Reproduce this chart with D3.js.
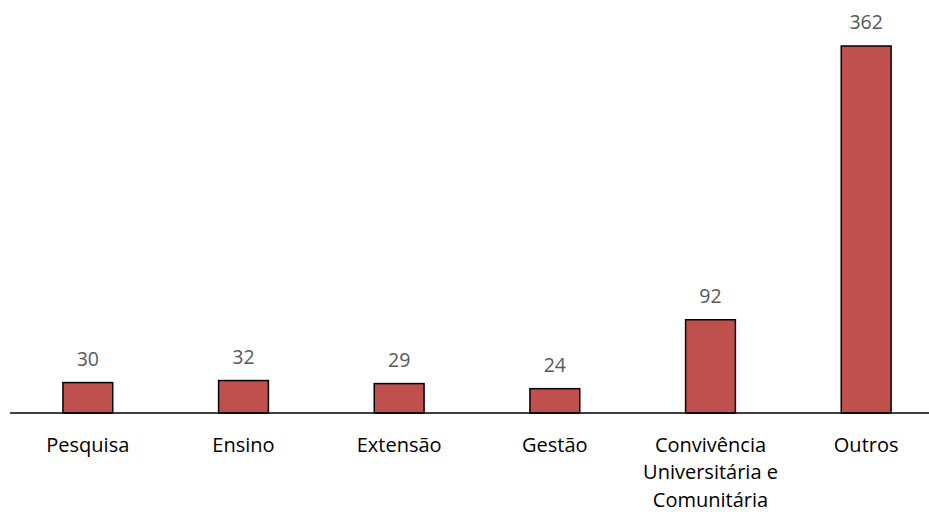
<!DOCTYPE html>
<html><head><meta charset="utf-8">
<script src="https://cdn.jsdelivr.net/npm/d3@7"></script>
<style>body{margin:0;background:#fff;} svg{display:block;}</style>
</head><body>
<svg id="c" width="929" height="512"></svg>
<script>
const categories = [["Pesquisa"],["Ensino"],["Extensão"],["Gestão"],["Convivência","Universitária e","Comunitária"],["Outros"]];
const values = [30, 32, 29, 24, 92, 362];

const svg = d3.select("#c");
const x = d3.scaleBand().domain(d3.range(values.length)).range([10, 944]).paddingInner(0.68).paddingOuter(0.34);
const y = d3.scaleLinear().domain([0, 362]).range([413, 46]);
const font = "'Open Sans', sans-serif";

svg.selectAll("rect.bar").data(values).join("rect")
  .attr("class","bar")
  .attr("x",(d,i)=>x(i)).attr("width",x.bandwidth())
  .attr("y",d=>y(d)).attr("height",d=>y(0)-y(d))
  .attr("fill","#C0504D").attr("stroke","#000").attr("stroke-width",1.5);

svg.append("line").attr("x1",10).attr("x2",929).attr("y1",y(0)).attr("y2",y(0))
  .attr("stroke","#000").attr("stroke-width",1.3);

svg.selectAll("text.val").data(values).join("text")
  .attr("class","val")
  .attr("x",(d,i)=>x(i)+x.bandwidth()/2).attr("y",d=>y(d)-17)
  .attr("text-anchor","middle").attr("font-family",font).attr("font-size",19.5)
  .attr("fill","#595959").text(d=>d);

const lab = svg.selectAll("text.cat").data(categories).join("text")
  .attr("class","cat")
  .attr("text-anchor","middle").attr("font-family",font).attr("font-size",20)
  .attr("fill","#000");
lab.each(function(lines,i){
  d3.select(this).selectAll("tspan").data(lines).join("tspan")
    .attr("x",x(i)+x.bandwidth()/2).attr("y",(l,j)=>451.5+j*27.5).text(l=>l);
});
</script>
</body></html>
